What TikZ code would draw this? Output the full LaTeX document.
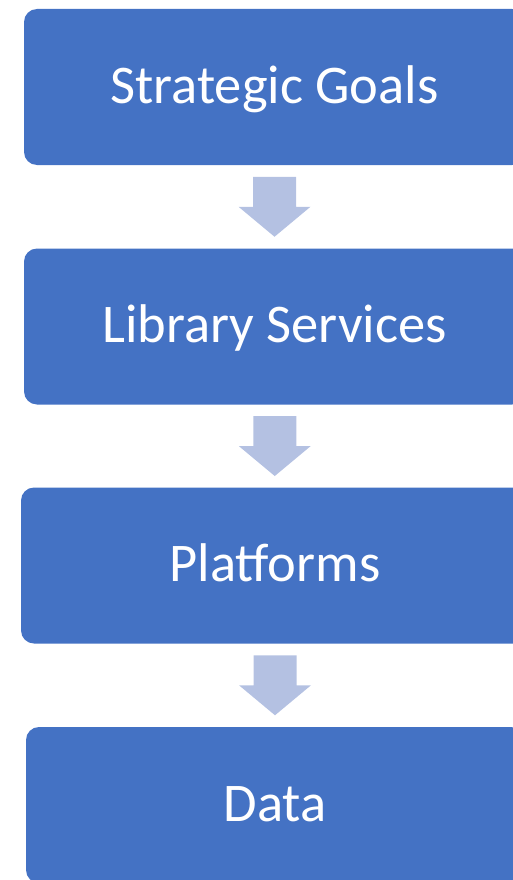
\documentclass[tikz,border=0pt]{standalone}
\usepackage{fontspec}
\setmainfont{Carlito}
\usetikzlibrary{calc}
\definecolor{boxblue}{HTML}{4472C4}
\definecolor{arrowblue}{HTML}{B4C1E2}
\begin{document}
\begin{tikzpicture}[x=1pt,y=-1pt,
  box/.style={fill=boxblue,rounded corners=13pt,minimum width=501pt,
    minimum height=156pt,text=white,text height=38pt,text depth=6pt,
    font=\fontsize{54.5}{66}\selectfont}]
  \useasboundingbox (0,0) rectangle (513,880);
  \clip (0,0) rectangle (513,880);
  \node[box] (goals) at (274.5,87) {Strategic Goals};
  \node[box] (services) at (274.5,326.5) {Library Services};
  \node[box,minimum width=508pt] (platforms) at (275,565.5) {Platforms};
  \node[box,minimum width=498pt] (data) at (275,805) {Data};
  % block arrows between the boxes
  \foreach \a/\b in {goals/services,services/platforms,platforms/data}
    \fill[arrowblue] ($(\a.south)!0.5!(\b.north)$) ++(-21.5,-30) -- ++(43,0)
      -- ++(0,30) -- ++(14.5,0) -- ++(-36,30) -- ++(-36,-30) -- ++(14.5,0) -- cycle;
\end{tikzpicture}
\end{document}
